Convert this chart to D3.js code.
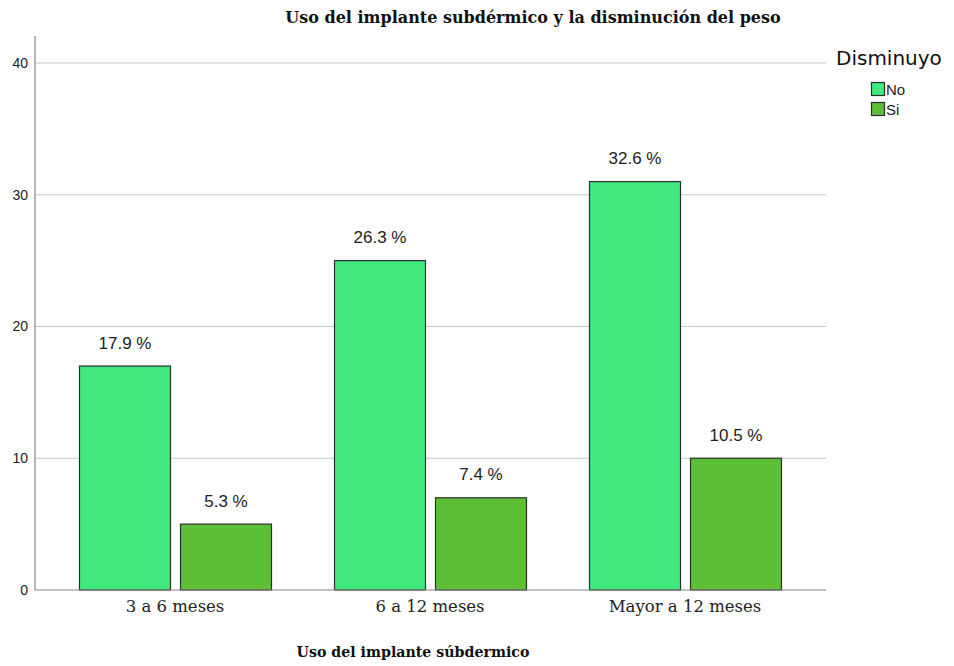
<!DOCTYPE html>
<html>
<head>
<meta charset="utf-8">
<script src="https://cdn.jsdelivr.net/npm/d3@7/dist/d3.min.js"></script>
<style>
  html, body { margin: 0; padding: 0; background: #fff; }
  svg { display: block; }
</style>
</head>
<body>
<svg id="chart" width="954" height="666"></svg>
<script>
// Duration of subdermal implant use, split by whether weight decreased
const categories = ["3 a 6 meses", "6 a 12 meses", "Mayor a 12 meses"];
const seriesNames = ["No", "Si"];
const countsNo = [17, 25, 31];
const countsSi = [5, 7, 10];
const yTicks = [0, 10, 20, 30, 40];
const colors = ["#41e87d", "#5cbf36"];

const total = d3.sum(countsNo) + d3.sum(countsSi);
const rows = categories.map((c, i) => ({ cat: c, values: [countsNo[i], countsSi[i]] }));

const serif = "DejaVu Serif, Liberation Serif, serif";
const sans = "Liberation Sans, Arial, sans-serif";

const svg = d3.select("#chart");
const axisLeft = 35, plotRight = 826, zeroY = 590, topY = 63;

const x0 = d3.scaleBand().domain(categories).range([47.5, 812.5]).paddingInner(0).paddingOuter(0);
const x1 = d3.scaleBand().domain(seriesNames).range([32, x0.bandwidth() - 31]).paddingInner(10 / 101);
const y = d3.scaleLinear().domain([0, 40]).range([zeroY, topY]);

// Gridlines
svg.append("g").selectAll("line").data(yTicks.filter(t => t > 0)).join("line")
  .attr("x1", axisLeft).attr("x2", plotRight)
  .attr("y1", d => y(d)).attr("y2", d => y(d))
  .attr("stroke", "#c8c8c8").attr("stroke-width", 1);

// Y axis
const yAxis = svg.append("g").attr("transform", `translate(${axisLeft},0)`)
  .call(d3.axisLeft(y).tickValues(yTicks).tickSize(0).tickPadding(7));
yAxis.select(".domain").remove();
yAxis.selectAll("text").attr("font-family", sans)
  .attr("font-size", 14).attr("fill", "#222");
svg.append("line").attr("x1", axisLeft).attr("x2", axisLeft).attr("y1", 36).attr("y2", zeroY)
  .attr("stroke", "#888").attr("stroke-width", 1.2);

// Bars
const groups = svg.append("g").selectAll("g").data(rows).join("g")
  .attr("transform", d => `translate(${x0(d.cat)},0)`);
groups.selectAll("rect").data(d => d.values.map((v, j) => ({ key: seriesNames[j], v, j }))).join("rect")
  .attr("x", d => x1(d.key))
  .attr("width", x1.bandwidth())
  .attr("y", d => y(d.v))
  .attr("height", d => zeroY - y(d.v))
  .attr("fill", d => colors[d.j])
  .attr("stroke", "#2e2e2e").attr("stroke-width", 1.2);

// Percentage labels
groups.selectAll("text").data(d => d.values.map((v, j) => ({ key: seriesNames[j], v, j }))).join("text")
  .attr("x", d => x1(d.key) + x1.bandwidth() / 2)
  .attr("y", d => y(d.v) - 22)
  .attr("text-anchor", "middle").attr("dominant-baseline", "middle")
  .attr("font-family", sans).attr("font-size", 17).attr("fill", "#222")
  .text(d => (d.v / total * 100).toFixed(1) + " %");

// X baseline
svg.append("line").attr("x1", axisLeft).attr("x2", plotRight).attr("y1", zeroY).attr("y2", zeroY)
  .attr("stroke", "#888").attr("stroke-width", 1.2);

// X axis labels
const xAxis = svg.append("g").attr("transform", `translate(0,${zeroY})`)
  .call(d3.axisBottom(x0).tickSize(0).tickPadding(10));
xAxis.select(".domain").remove();
xAxis.selectAll("text").attr("font-family", serif)
  .attr("font-size", 16.5).attr("fill", "#222");

// Titles
svg.append("text").attr("x", 533).attr("y", 23).attr("text-anchor", "middle")
  .attr("font-family", serif).attr("font-weight", "bold")
  .attr("font-size", 16).attr("fill", "#111")
  .text("Uso del implante subdérmico y la disminución del peso");
svg.append("text").attr("x", 413).attr("y", 657).attr("text-anchor", "middle")
  .attr("font-family", serif).attr("font-weight", "bold")
  .attr("font-size", 14.2).attr("fill", "#111")
  .text("Uso del implante súbdermico");

// Legend
const legend = svg.append("g");
legend.append("text").attr("x", 836).attr("y", 65)
  .attr("font-family", "DejaVu Sans, sans-serif").attr("font-size", 20).attr("fill", "#111")
  .text("Disminuyo");
seriesNames.forEach((s, i) => {
  legend.append("rect").attr("x", 871.5).attr("y", 82.5 + i * 20).attr("width", 13).attr("height", 13)
    .attr("fill", colors[i]).attr("stroke", "#2e2e2e").attr("stroke-width", 1.2);
  legend.append("text").attr("x", 886).attr("y", 95 + i * 20)
    .attr("font-family", sans).attr("font-size", 15).attr("fill", "#222")
    .text(s);
});
</script>
</body>
</html>
